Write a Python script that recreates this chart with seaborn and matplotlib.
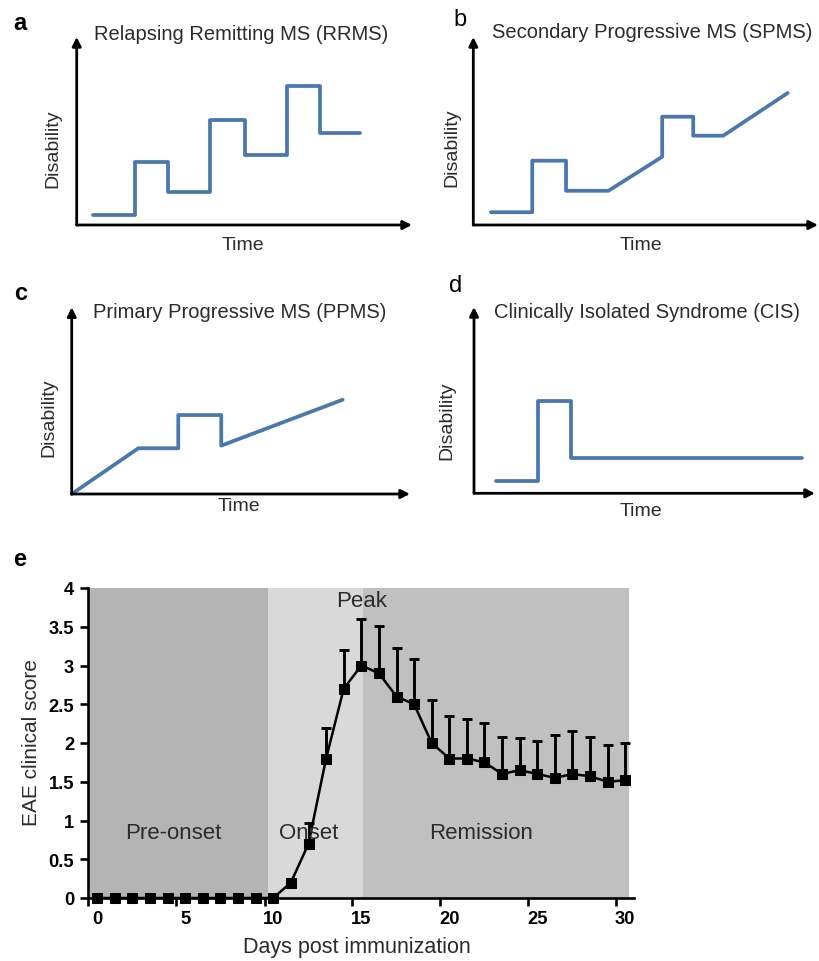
import numpy as np
import pandas as pd
import matplotlib
matplotlib.use("Agg")
import matplotlib.pyplot as plt
import seaborn as sns

# ---------------- data ----------------
# schematic disease courses (arbitrary units 0-100)
rrms_time = [4.8, 17.4, 17.4, 27.2, 27.2, 39.8, 39.8, 50.2, 50.2, 62.7, 62.7, 72.6, 72.6, 84.6]
rrms_disability = [5.5, 5.5, 33.7, 33.7, 17.4, 17.4, 55.9, 55.9, 37.2, 37.2, 73.8, 73.8, 48.8, 48.8]
spms_time = [5.1, 17.1, 17.1, 26.9, 26.9, 39.2, 54.8, 54.8, 63.8, 63.8, 72.5, 91.2]
spms_disability = [6.8, 6.8, 34.2, 34.2, 18.2, 18.2, 36.3, 57.6, 57.6, 47.5, 47.5, 70.2]
ppms_time = [0, 19.7, 31.5, 31.5, 44.2, 44.2, 80.1]
ppms_disability = [0, 24.5, 24.5, 42.3, 42.3, 25.9, 50.5]
cis_time = [6.5, 18.9, 18.9, 28.4, 28.4, 96.1]
cis_disability = [6.8, 6.8, 49.7, 49.7, 18.9, 18.9]

panel_titles = ["Relapsing Remitting MS (RRMS)", "Secondary Progressive MS (SPMS)",
                "Primary Progressive MS (PPMS)", "Clinically Isolated Syndrome (CIS)"]
panel_letters = ["a", "b", "c", "d", "e"]

# EAE clinical course
days = [0, 1, 2, 3, 4, 5, 6, 7, 8, 9, 10, 11, 12, 13, 14, 15, 16, 17, 18, 19, 20,
        21, 22, 23, 24, 25, 26, 27, 28, 29, 30]
eae_score = [0, 0, 0, 0, 0, 0, 0, 0, 0, 0, 0, 0.2, 0.7, 1.8, 2.7, 3.0, 2.9, 2.6, 2.5, 2.0,
             1.8, 1.8, 1.75, 1.6, 1.65, 1.6, 1.55, 1.6, 1.57, 1.5, 1.52]
eae_err = [0, 0, 0, 0, 0, 0, 0, 0, 0, 0, 0, 0, 0.27, 0.4, 0.5, 0.6, 0.61, 0.63, 0.58, 0.55,
           0.55, 0.51, 0.51, 0.48, 0.41, 0.43, 0.55, 0.55, 0.51, 0.47, 0.48]
phase_names = ["Pre-onset", "Onset", "Remission"]
phase_edges = [-0.5, 9.7, 15.1, 30.2]
phase_label_x = [4.3, 12.0, 21.8]
phase_label_y = 0.85
peak_label = ("Peak", 15.0, 3.84)
y_ticks = [0, 0.5, 1, 1.5, 2, 2.5, 3, 3.5, 4]
y_ticklabels = ["0", "0.5", "1", "1.5", "2", "2.5", "3", "3.5", "4"]
x_ticks = [0, 5, 10, 15, 20, 25, 30]
x_ticklabels = ["0", "5", "10", "15", "20", "25", "30"]

# ---------------- style ----------------
sns.set_theme(style="white")
plt.rcParams["font.family"] = ["Liberation Sans", "DejaVu Sans"]

BLUE = "#4a78ad"
TXT = "#2b2b2b"
PHASE_COLORS = ["#b4b4b4", "#d9d9d9", "#c0c0c0"]

W, H = 820, 962
fig = plt.figure(figsize=(W / 100, H / 100), dpi=100)
fig.patch.set_facecolor("white")


def px_axes(l, t, r, b):
    return fig.add_axes([l / W, 1 - b / H, (r - l) / W, (b - t) / H])


def ftext(x, y, s, **kw):
    fig.text(x / W, 1 - y / H, s, ha="center", va="center", **kw)


def schematic(rect, tx, dy, title, tpos, letter, lpos, bold, ylpos, xlpos):
    ax = px_axes(*rect)
    df = pd.DataFrame({"Time": tx, "Disability": dy})
    sns.lineplot(data=df, x="Time", y="Disability", sort=False, estimator=None,
                 color=BLUE, lw=2.7, ax=ax, clip_on=False)
    ax.set_xlim(0, 100)
    ax.set_ylim(0, 100)
    ax.set_axis_off()
    for end in [(1, 0), (0, 1)]:
        ax.annotate("", xy=end, xytext=(0, 0), xycoords="axes fraction",
                    textcoords="axes fraction",
                    arrowprops=dict(arrowstyle="-|>", lw=2.0, color="black",
                                    mutation_scale=13, shrinkA=0, shrinkB=0),
                    annotation_clip=False)
    ftext(*tpos, title, fontsize=14.5, color=TXT)
    ftext(*lpos, letter, fontsize=17, color="black",
          fontweight="bold" if bold else "normal")
    ftext(*ylpos, "Disability", fontsize=14, color=TXT, rotation=90)
    ftext(*xlpos, "Time", fontsize=14, color=TXT)


schematic((76.7, 38, 412, 226), rrms_time, rrms_disability, panel_titles[0],
          (241, 34), panel_letters[0], (20, 23), True, (53, 149), (243, 245))
schematic((473.3, 38, 818, 226), spms_time, spms_disability, panel_titles[1],
          (652, 33), panel_letters[1], (460, 20), False, (452, 148), (641, 245))
schematic((71.7, 308.3, 410, 495), ppms_time, ppms_disability, panel_titles[2],
          (240, 312), panel_letters[2], (21, 294), True, (49, 418), (239, 507))
schematic((474, 308, 815, 494.3), cis_time, cis_disability, panel_titles[3],
          (647, 312), panel_letters[3], (456, 286), False, (447, 421), (641, 512))

# ---------------- panel e ----------------
ax = px_axes(88.5, 589, 634.1, 899)
for i in range(len(phase_names)):
    ax.axvspan(phase_edges[i], phase_edges[i + 1], ymin=0, ymax=1,
               color=PHASE_COLORS[i], lw=0, zorder=0)

eae = pd.DataFrame({"day": days, "score": eae_score, "err": eae_err})
has_err = eae[eae["err"] > 0]
ax.errorbar(has_err["day"], has_err["score"],
            yerr=[np.zeros(len(has_err)), has_err["err"]],
            fmt="none", ecolor="black", elinewidth=2.1, capsize=3.3, capthick=2.1,
            zorder=2)
sns.lineplot(data=eae, x="day", y="score", estimator=None, sort=False,
             color="black", lw=1.8, marker="s", markersize=7,
             markeredgecolor="black", markerfacecolor="black",
             ax=ax, zorder=3, clip_on=False)

ax.set_xlim(-0.5, 30.5)
ax.set_ylim(0, 4)
for s in ["top", "right"]:
    ax.spines[s].set_visible(False)
for s in ["left", "bottom"]:
    ax.spines[s].set_color("black")
    ax.spines[s].set_linewidth(1.9)
ax.set_facecolor("none")

ax.set_yticks(y_ticks, y_ticklabels, fontweight="bold", fontsize=13.2)
ax.tick_params(axis="y", which="major", left=True, direction="out", length=5.8,
               width=1.9, pad=4.5, colors="black")
# GraphPad-style tick marks sit half a day to the left of the labels
ax.set_xticks([t - 0.5 for t in x_ticks], [""] * len(x_ticks))
ax.set_xticks(x_ticks, x_ticklabels, minor=True, fontweight="bold", fontsize=13.2)
ax.tick_params(axis="x", which="major", bottom=True, direction="out", length=5.5,
               width=1.9, colors="black")
ax.tick_params(axis="x", which="minor", bottom=True, length=0, pad=8.5, colors="black")
ax.set_xlabel("")
ax.set_ylabel("")

for name, xp in zip(phase_names, phase_label_x):
    ax.text(xp, phase_label_y, name, ha="center", va="center", fontsize=16, color=TXT,
            zorder=4)
ax.text(peak_label[1], peak_label[2], peak_label[0], ha="center", va="center",
        fontsize=16, color=TXT, zorder=4)

ftext(20, 560, panel_letters[4], fontsize=17, fontweight="bold", color="black")
ftext(32, 743, "EAE clinical score", fontsize=15, color=TXT, rotation=90)
ftext(357, 948, "Days post immunization", fontsize=15.5, color=TXT)

fig.savefig("out.png", dpi=100)
